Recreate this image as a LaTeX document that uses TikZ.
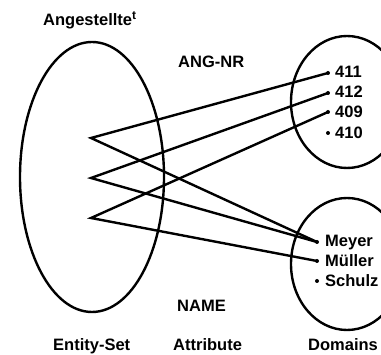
\documentclass[tikz,border=0pt]{standalone}
\usepackage{fontspec}
\setmainfont{Liberation Sans}
\begin{document}
\begin{tikzpicture}[x=1pt,y=-1pt,
  lbl/.style={font=\fontsize{16.5}{19}\selectfont\bfseries, inner sep=0pt, anchor=base west},
  dot/.style={circle, fill=black, inner sep=0pt, minimum size=4pt},
  con/.style={line width=2.4pt},
  set/.style={line width=2.4pt}]
\useasboundingbox (0,0) rectangle (381,355);
% sets
\draw[set] (92,177) ellipse [x radius=72pt, y radius=135pt];
\draw[set] (347,102) ellipse [x radius=56pt, y radius=66pt];
\draw[set] (347,264) ellipse [x radius=56pt, y radius=66pt];
% entities
\coordinate (e1) at (91,138);
\coordinate (e2) at (91,178);
\coordinate (e3) at (91,218);
% domain values
\node[dot] (d411) at (328,73) {};
\node[dot] (d412) at (328,93) {};
\node[dot] (d409) at (328,112) {};
\node[dot] (d410) at (328,133) {};
\node[dot] (dmey) at (317,242) {};
\node[dot] (dmue) at (317,261) {};
\node[dot] (dsch) at (317,281) {};
\node[lbl] (t411) at (335,78) {411};
\node[lbl] (t412) at (335,98) {412};
\node[lbl] (t409) at (335,118) {409};
\node[lbl] (t410) at (335,139) {410};
\node[lbl] (tmey) at (325,247) {Meyer};
\node[lbl] (tmue) at (325,267) {Müller};
\node[lbl] (tsch) at (325,287) {Schulz};
% connectors
\draw[con] (d411.center) -- (e1) -- (dmey.center);
\draw[con] (d412.center) -- (e2) -- (dmey.center);
\draw[con] (d409.center) -- (e3) -- (dmue.center);
% labels
\node[lbl] (angt) at (43,26) {Angestellte\raisebox{6pt}{\fontsize{12}{12}\selectfont\bfseries t}};
\node[lbl] (angnr) at (178,68) {ANG-NR};
\node[lbl] (name) at (177,312) {NAME};
\node[lbl] (es) at (53,351) {Entity-Set};
\node[lbl] (attr) at (173,351) {Attribute};
\node[lbl] (dom) at (308,351) {Domains};
\end{tikzpicture}
\end{document}
